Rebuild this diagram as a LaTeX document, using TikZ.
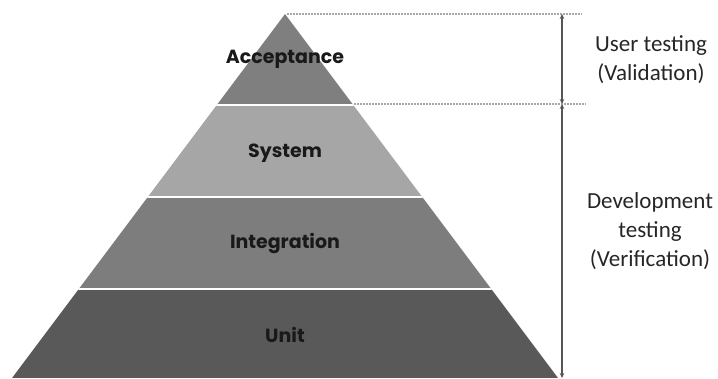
\documentclass[tikz,border=0pt]{standalone}
\usepackage{fontspec}
\setmainfont{Carlito}
\newfontfamily\geofont{Poppins}
\usetikzlibrary{arrows.meta}
\definecolor{tierA}{HTML}{7F7F7F}
\definecolor{tierS}{HTML}{A6A6A6}
\definecolor{tierI}{HTML}{7D7D7D}
\definecolor{tierU}{HTML}{595959}
\definecolor{guide}{HTML}{A8A8A8}
\definecolor{dim}{HTML}{555555}
\begin{document}
\begin{tikzpicture}[x=1pt,y=-1pt,
  tierlabel/.style={font=\geofont\bfseries\fontsize{19}{22}\selectfont, text=black!90, inner sep=0pt},
  sidelabel/.style={font=\fontsize{23}{29}\selectfont, align=center, text=black!85, inner sep=0pt},
  guideline/.style={draw=guide, dash pattern=on 1.6pt off 1.4pt, line width=1.4pt},
  dimline/.style={draw=dim, line width=1.2pt, {Stealth[length=5pt,width=4.5pt]}-{Stealth[length=5pt,width=4.5pt]}}]
\useasboundingbox (0,0) rectangle (718,378);
% pyramid outline points
\coordinate (apex) at (285,14);
\coordinate (bl) at (12,378);
\coordinate (br) at (558,378);
% tiers, clipped to the triangle
\begin{scope}
  \clip (apex) -- (br) -- (bl) -- cycle;
  \fill[tierA] (0,0) rectangle (718,105);
  \fill[tierS] (0,105) rectangle (718,197);
  \fill[tierI] (0,197) rectangle (718,289);
  \fill[tierU] (0,289) rectangle (718,378);
  \draw[white, line width=2.2pt] (0,105) -- (718,105) (0,197) -- (718,197) (0,289) -- (718,289);
\end{scope}
% tier labels
\node[tierlabel] (acc) at (285,59) {Acceptance};
\node[tierlabel] (sys) at (285,153) {System};
\node[tierlabel] (int) at (285,243) {Integration};
\node[tierlabel] (unit) at (285,335) {Unit};
% guide lines and dimension arrows
\coordinate (g1a) at (287,14);
\coordinate (g1b) at (582,14);
\coordinate (g2a) at (354,104);
\coordinate (g2b) at (586,104);
\draw[guideline] (g1a) -- (g1b);
\draw[guideline] (g2a) -- (g2b);
\coordinate (d0) at (562,14);
\coordinate (d1) at (562,104);
\coordinate (d2) at (562,378);
\draw[dimline] (d0) -- (d1);
\draw[dimline] (d1) -- (d2);
% side labels
\node[sidelabel] (user) at (651,60) {User testing\\(Validation)};
\node[sidelabel] (dev) at (650,231) {Development\\testing\\(Verification)};
\end{tikzpicture}
\end{document}
